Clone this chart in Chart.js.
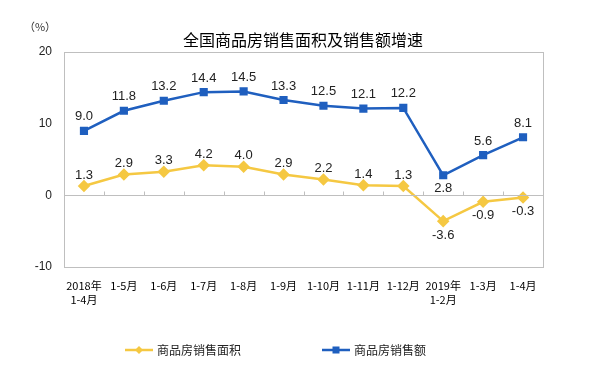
<!DOCTYPE html>
<html><head><meta charset="utf-8">
<script src="https://cdn.jsdelivr.net/npm/chart.js@4/dist/chart.umd.min.js"></script>
<style>html,body{margin:0;padding:0;background:#fff}#wrap{width:591px;height:375px}</style>
</head><body><div id="wrap"><canvas id="c" width="591" height="375"></canvas></div>
<script>
const categories = [["2018年","1-4月"],"1-5月","1-6月","1-7月","1-8月","1-9月","1-10月","1-11月","1-12月",["2019年","1-2月"],"1-3月","1-4月"];
const areaName = "商品房销售面积";
const salesName = "商品房销售额";
const areaGrowth = [1.3, 2.9, 3.3, 4.2, 4.0, 2.9, 2.2, 1.4, 1.3, -3.6, -0.9, -0.3];
const salesGrowth = [9.0, 11.8, 13.2, 14.4, 14.5, 13.3, 12.5, 12.1, 12.2, 2.8, 5.6, 8.1];
const yTicks = [-10, 0, 10, 20];
const titleText = "全国商品房销售面积及销售额增速";
const unitText = "（%）";
// label placement: 1 above, -1 below
const areaLabelPos = [1,1,1,1,1,1,1,1,1,-1,-1,-1];
const salesLabelPos = [1,1,1,1,1,1,1,1,1,-1,1,1];

const BLUE = "#1F5FBF", YELLOW = "#F5C842";
const CJK = "'Noto Sans CJK SC', 'Liberation Sans', sans-serif";

const decor = {
  id: 'decor',
  afterDatasetsDraw(chart) {
    const ctx = chart.ctx, a = chart.chartArea;
    const x = chart.scales.x, y = chart.scales.y;
    ctx.save();
    // border
    ctx.strokeStyle = "#BFBFBF"; ctx.lineWidth = 1;
    ctx.strokeRect(Math.round(a.left)+0.5, Math.round(a.top)+0.5, Math.round(a.right-a.left), Math.round(a.bottom-a.top));
    // zero line + ticks
    const y0 = Math.round(y.getPixelForValue(0)) + 0.5;
    ctx.beginPath(); ctx.moveTo(a.left, y0); ctx.lineTo(a.right, y0); ctx.stroke();
    const step = (a.right - a.left) / categories.length;
    for (let i = 1; i < categories.length; i++) {
      const xx = Math.round(a.left + step * i) + 0.5;
      ctx.beginPath(); ctx.moveTo(xx, y0 - 4); ctx.lineTo(xx, y0); ctx.stroke();
    }
    // data labels
    ctx.font = "13px 'Liberation Sans', Arial, sans-serif";
    ctx.fillStyle = "#222"; ctx.textAlign = "center"; ctx.textBaseline = "middle";
    const drawLabels = (dsIdx, vals, pos, up, down) => {
      const meta = chart.getDatasetMeta(dsIdx);
      meta.data.forEach((p, i) => {
        const off = pos[i] > 0 ? -up : down;
        ctx.fillText(vals[i].toFixed(1), p.x, p.y + off);
      });
    };
    drawLabels(0, areaGrowth, areaLabelPos, 11, 14);
    drawLabels(1, salesGrowth, salesLabelPos, 14, 13);
    // title
    ctx.fillStyle = "#000"; ctx.font = "16px " + CJK;
    ctx.fillText(titleText, 303, 40);
    ctx.font = "11px " + CJK; ctx.fillStyle = "#333";
    ctx.fillText(unitText, 40, 27);
    // legend
    const legend = (x0, color, rot, text) => {
      const ly = 350;
      ctx.strokeStyle = color; ctx.lineWidth = 2.5;
      ctx.beginPath(); ctx.moveTo(x0, ly); ctx.lineTo(x0 + 28, ly); ctx.stroke();
      ctx.fillStyle = color;
      const cx = x0 + 14;
      if (rot) { ctx.beginPath(); ctx.moveTo(cx, ly-4); ctx.lineTo(cx+4, ly); ctx.lineTo(cx, ly+4); ctx.lineTo(cx-4, ly); ctx.closePath(); ctx.fill(); }
      else ctx.fillRect(cx - 3.5, ly - 3.5, 7, 7);
      ctx.fillStyle = "#222"; ctx.font = "12px " + CJK; ctx.textAlign = "left";
      ctx.fillText(text, x0 + 32, ly);
    };
    legend(125, YELLOW, true, areaName);
    legend(322, BLUE, false, salesName);
    ctx.restore();
  }
};

new Chart(document.getElementById('c'), {
  type: 'line',
  data: {
    labels: categories,
    datasets: [
      { label: areaName, data: areaGrowth, borderColor: YELLOW, backgroundColor: YELLOW, borderWidth: 2.5,
        pointStyle: 'rectRot', pointRadius: 4.5, pointHoverRadius: 4.5, tension: 0 },
      { label: salesName, data: salesGrowth, borderColor: BLUE, backgroundColor: BLUE, borderWidth: 2.5,
        pointStyle: 'rect', pointRadius: 4, pointHoverRadius: 4, tension: 0 }
    ]
  },
  options: {
    responsive: false, animation: false, devicePixelRatio: 1,
    layout: { padding: { left: 0, top: 52, right: 48, bottom: 58 } },
    plugins: { legend: { display: false }, title: { display: false }, tooltip: { enabled: false } },
    scales: {
      x: {
        offset: true,
        grid: { display: false, drawTicks: false },
        border: { display: false },
        ticks: { color: "#000", font: { size: 11, family: CJK, lineHeight: 1.35 }, maxRotation: 0, autoSkip: false, padding: 11 },
        afterFit(s) { s.height = 50; }
      },
      y: {
        min: -10, max: 20,
        afterBuildTicks(s) { s.ticks = yTicks.map(v => ({ value: v })); },
        grid: { display: false, drawTicks: false },
        border: { display: false },
        ticks: { color: "#222", font: { size: 12, family: "'Liberation Sans', Arial, sans-serif" }, padding: 12 },
        afterFit(s) { s.width = 64; }
      }
    }
  },
  plugins: [decor]
});
</script></body></html>
